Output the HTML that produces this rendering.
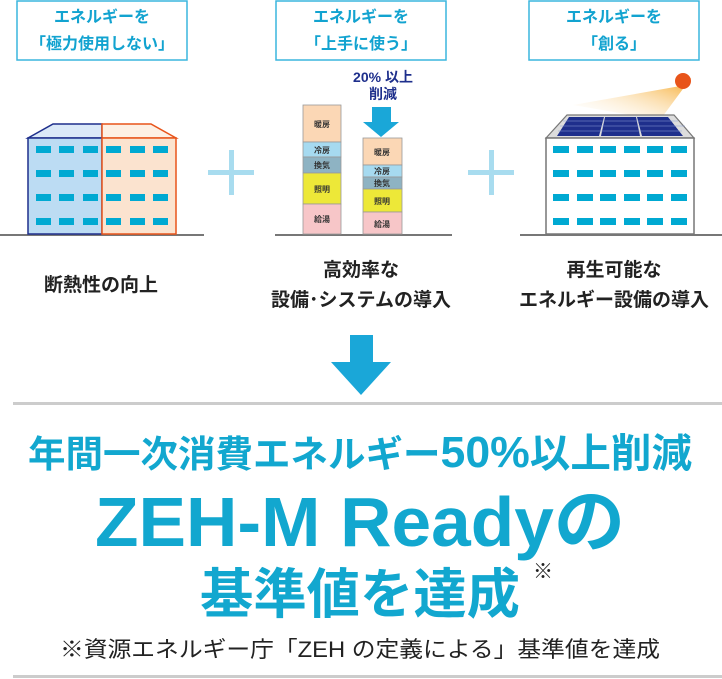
<!DOCTYPE html>
<html><head><meta charset="utf-8"><style>
body{margin:0;width:722px;height:679px;background:#fff;overflow:hidden;font-family:"Liberation Sans","Noto Sans CJK JP",sans-serif}
svg{position:absolute;left:0;top:0}
.t{font-family:"Liberation Sans","Noto Sans CJK JP",sans-serif;font-weight:bold}
</style></head><body>
<svg width="722" height="679" viewBox="0 0 722 679">
<defs><linearGradient id="g" x1="1" y1="0" x2="0" y2="1"><stop offset="0" stop-color="#f5a623"/><stop offset="1" stop-color="#fff" stop-opacity="0"/></linearGradient></defs>
<g fill="#fff" stroke="#3ab6de" stroke-width="1.5">
<rect x="17" y="1" width="170" height="59"/><rect x="276" y="1" width="170" height="59"/><rect x="529" y="1" width="170" height="59"/></g>
<g class="t" fill="#12a3d0" font-size="16" text-anchor="middle">
<text x="102" y="22">エネルギーを</text><text x="102" y="49">「極力使用しない」</text>
<text x="361" y="22">エネルギーを</text><text x="361" y="49">「上手に使う」</text>
<text x="614" y="22">エネルギーを</text><text x="614" y="49">「創る」</text></g>
<g stroke="#777" stroke-width="2"><line x1="0" y1="235" x2="204" y2="235"/><line x1="275" y1="235" x2="452" y2="235"/><line x1="520" y1="235" x2="722" y2="235"/></g>
<polygon points="28,138 53,124 102,124 102,138" fill="#dbe9f8" stroke="#1e2f8c" stroke-width="1.5"/>
<polygon points="102,124 151,124 176,138 102,138" fill="#fdf0e4" stroke="#e8541a" stroke-width="1.5"/>
<rect x="28" y="138" width="74" height="96" fill="#bcdcf3" stroke="#1e2f8c" stroke-width="1.5"/>
<rect x="102" y="138" width="74" height="96" fill="#fbe3cf" stroke="#e8541a" stroke-width="1.5"/>
<g fill="#00a9d2">
<rect x="36" y="146" width="15" height="7"/><rect x="59" y="146" width="15" height="7"/><rect x="83" y="146" width="15" height="7"/><rect x="106" y="146" width="15" height="7"/><rect x="130" y="146" width="15" height="7"/><rect x="153" y="146" width="15" height="7"/>
<rect x="36" y="170" width="15" height="7"/><rect x="59" y="170" width="15" height="7"/><rect x="83" y="170" width="15" height="7"/><rect x="106" y="170" width="15" height="7"/><rect x="130" y="170" width="15" height="7"/><rect x="153" y="170" width="15" height="7"/>
<rect x="36" y="194" width="15" height="7"/><rect x="59" y="194" width="15" height="7"/><rect x="83" y="194" width="15" height="7"/><rect x="106" y="194" width="15" height="7"/><rect x="130" y="194" width="15" height="7"/><rect x="153" y="194" width="15" height="7"/>
<rect x="36" y="218" width="15" height="7"/><rect x="59" y="218" width="15" height="7"/><rect x="83" y="218" width="15" height="7"/><rect x="106" y="218" width="15" height="7"/><rect x="130" y="218" width="15" height="7"/><rect x="153" y="218" width="15" height="7"/>
</g>
<g fill="#a8dcef"><rect x="208" y="170" width="46" height="5"/><rect x="229" y="150" width="5" height="45"/>
<rect x="468" y="170" width="46" height="5"/><rect x="489" y="150" width="5" height="45"/></g>
<g stroke="#999" stroke-width="0.8">
<rect x="303" y="105" width="38" height="37" fill="#fbd7b5"/><rect x="303" y="142" width="38" height="15" fill="#a6daf0"/><rect x="303" y="157" width="38" height="16" fill="#8eb3c3"/><rect x="303" y="173" width="38" height="31" fill="#ede838"/><rect x="303" y="204" width="38" height="30" fill="#f7c6c8"/>
<rect x="363" y="138" width="39" height="27" fill="#fbd7b5"/><rect x="363" y="165" width="39" height="12" fill="#a6daf0"/><rect x="363" y="177" width="39" height="12" fill="#8eb3c3"/><rect x="363" y="189" width="39" height="23" fill="#ede838"/><rect x="363" y="212" width="39" height="22" fill="#f7c6c8"/></g>
<g class="t" fill="#333" font-size="8" text-anchor="middle">
<text x="322" y="127">暖房</text><text x="322" y="153">冷房</text><text x="322" y="168">換気</text><text x="322" y="192">照明</text><text x="322" y="222">給湯</text>
<text x="382" y="155">暖房</text><text x="382" y="174">冷房</text><text x="382" y="186">換気</text><text x="382" y="204">照明</text><text x="382" y="227">給湯</text></g>
<polygon points="372,107 391,107 391,122 399,122 381,137 363,122 372,122" fill="#1aa7d8"/>
<g class="t" fill="#1e2f8c" font-size="14" text-anchor="middle"><text x="383" y="82">20% 以上</text><text x="383" y="99">削減</text></g>
<polygon points="573,105 686,85 679,80 691,78 660,120" fill="url(#g)"/>
<circle cx="683" cy="81" r="8" fill="#e8541a"/>
<polygon points="546,138 567,115 674,115 694,138" fill="#ddd" stroke="#777" stroke-width="1.2"/>
<polygon points="557,136 569,117 604,117 599,136" fill="#1e2f8c"/><polygon points="601,136 605,117 636,117 640,136" fill="#1e2f8c"/><polygon points="642,136 637,117 668,117 683,136" fill="#1e2f8c"/>
<g stroke="#8c9fd8" stroke-width="0.6"><line x1="560" y1="126" x2="685" y2="126"/><line x1="563" y1="121" x2="678" y2="121"/><line x1="558" y1="131" x2="682" y2="131"/></g>
<rect x="546" y="138" width="148" height="96" fill="#fff" stroke="#777" stroke-width="1.5"/>
<g fill="#00a9d2">
<rect x="553" y="146" width="16" height="7"/><rect x="577" y="146" width="16" height="7"/><rect x="600" y="146" width="16" height="7"/><rect x="624" y="146" width="16" height="7"/><rect x="647" y="146" width="16" height="7"/><rect x="671" y="146" width="16" height="7"/>
<rect x="553" y="170" width="16" height="7"/><rect x="577" y="170" width="16" height="7"/><rect x="600" y="170" width="16" height="7"/><rect x="624" y="170" width="16" height="7"/><rect x="647" y="170" width="16" height="7"/><rect x="671" y="170" width="16" height="7"/>
<rect x="553" y="194" width="16" height="7"/><rect x="577" y="194" width="16" height="7"/><rect x="600" y="194" width="16" height="7"/><rect x="624" y="194" width="16" height="7"/><rect x="647" y="194" width="16" height="7"/><rect x="671" y="194" width="16" height="7"/>
<rect x="553" y="218" width="16" height="7"/><rect x="577" y="218" width="16" height="7"/><rect x="600" y="218" width="16" height="7"/><rect x="624" y="218" width="16" height="7"/><rect x="647" y="218" width="16" height="7"/><rect x="671" y="218" width="16" height="7"/>
</g>
<g class="t" fill="#222" font-size="19" text-anchor="middle">
<text x="101" y="291">断熱性の向上</text>
<text x="361" y="276">高効率な</text><text x="361" y="306">設備･システムの導入</text>
<text x="614" y="276">再生可能な</text><text x="614" y="306">エネルギー設備の導入</text></g>
<polygon points="350,335 373,335 373,362 391,362 361,395 331,362 350,362" fill="#1aa7d8"/>
<g fill="#ccc"><rect x="13" y="402" width="709" height="3"/><rect x="13" y="675" width="709" height="3"/></g>
<g class="t" fill="#12a7cf">
<text x="28" y="467" font-size="37" textLength="664" lengthAdjust="spacingAndGlyphs">年間一次消費エネルギー<tspan font-size="44">50%</tspan><tspan font-size="40">以上削減</tspan></text>
<text x="95" y="546" font-size="70" textLength="530" lengthAdjust="spacingAndGlyphs">ZEH-M Readyの</text>
<text x="200" y="613" font-size="54" textLength="320" lengthAdjust="spacingAndGlyphs">基準値を達成</text>
<text x="533" y="578" font-size="20" fill="#222" font-weight="normal">※</text></g>
<text x="60" y="657" font-size="22" fill="#222" textLength="600" lengthAdjust="spacingAndGlyphs" style="font-family:'Liberation Sans','Noto Sans CJK JP',sans-serif">※資源エネルギー庁「ZEH の定義による」基準値を達成</text>
</svg>
</body></html>
